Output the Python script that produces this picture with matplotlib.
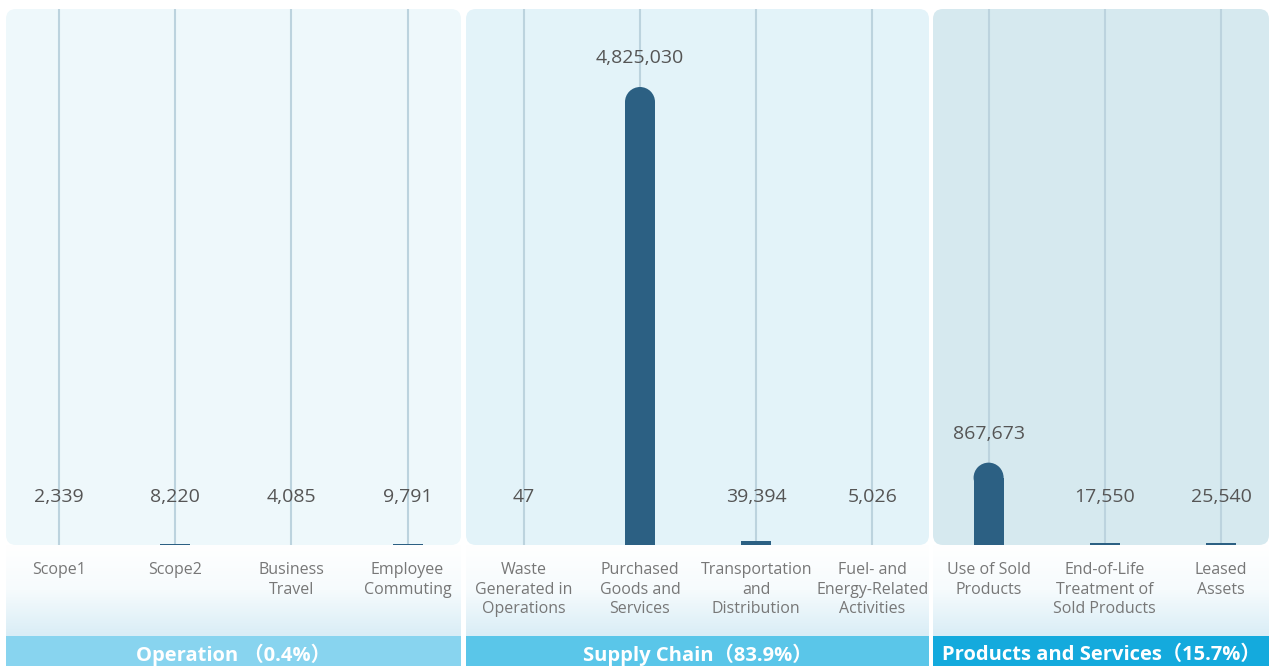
import numpy as np
import matplotlib
matplotlib.use("Agg")
import matplotlib.pyplot as plt
from matplotlib.patches import FancyBboxPatch, Rectangle, Ellipse
from matplotlib.transforms import blended_transform_factory
from matplotlib.colors import LinearSegmentedColormap

plt.rcParams['font.family'] = ['Open Sans', 'Noto Sans CJK SC', 'DejaVu Sans']

# data
categories = ['Scope1', 'Scope2', 'Business\nTravel', 'Employee\nCommuting',
              'Waste\nGenerated in\nOperations', 'Purchased\nGoods and\nServices',
              'Transportation\nand\nDistribution', 'Fuel- and\nEnergy-Related\nActivities',
              'Use of Sold\nProducts', 'End-of-Life\nTreatment of\nSold Products',
              'Leased\nAssets']
values = [2339, 8220, 4085, 9791, 47, 4825030, 39394, 5026, 867673, 17550, 25540]
groups = ['Operation （0.4%）', 'Supply Chain（83.9%）', 'Products and Services（15.7%）']

panel_cols = ['#eef8fb', '#e3f3f9', '#d6e9ef']
band_cols = ['#88d4ef', '#5ac6e9', '#14aadd']
bar_col = '#2c6083'
grid_col = '#bcd3de'

W, H = 1269, 666
fig = plt.figure(figsize=(W / 100, H / 100), dpi=100)

# background layer in pixel units
bg = fig.add_axes([0, 0, 1, 1])
bg.axis('off')

panel_x = [(6, 461), (466, 929), (933, 1269)]
top, base, band_top = 9, 545, 636

grad = np.linspace(0, 1, 100).reshape(-1, 1)
gcmap = LinearSegmentedColormap.from_list('g', ['#ffffff', '#f6fbfd', '#d9edf6'])

for (x0, x1), pc, bc, g in zip(panel_x, panel_cols, band_cols, groups):
    bg.add_patch(FancyBboxPatch((x0, top), x1 - x0, base - top,
                                boxstyle='round,pad=0,rounding_size=10',
                                fc=pc, ec='none', zorder=1))
    bg.imshow(grad, extent=(x0, x1, band_top, base), cmap=gcmap,
              aspect='auto', zorder=0)
    bg.add_patch(Rectangle((x0, band_top), x1 - x0, H - band_top,
                           fc=bc, ec='none', zorder=1))
    bg.text((x0 + x1) / 2, 655, g, ha='center', va='center', color='white',
            fontsize=14.5, fontweight='bold', zorder=2)
bg.set_xlim(0, W)
bg.set_ylim(H, 0)

# data axes
ax = fig.add_axes([0, (H - base) / H, 1, (base - top) / H])
ax.patch.set_alpha(0)
ax.axis('off')
step = 116.2
ax.set_xlim(-59 / step, (W - 59) / step)
ymax = max(values) * (base - top) / 458
ax.set_ylim(0, ymax)

x = np.arange(len(values))
ax.vlines(x, 0, ymax, color=grid_col, lw=1.5, zorder=1)

px_y = ymax / (base - top)
bw = 30 / step
r = 15 * px_y
for i, v in enumerate(values):
    if v > 2 * r:
        ax.add_patch(Rectangle((i - bw / 2, 0), bw, v - r, fc=bar_col, ec='none', zorder=2))
        ax.add_patch(Ellipse((i, v - r), bw, 2 * r, fc=bar_col, ec='none', zorder=2))
    else:
        ax.bar(i, v, width=bw, color=bar_col, zorder=2)
    ly = max(v, 19 * px_y) + 29 * px_y
    ax.text(i, ly, f'{v:,}', ha='center', va='center', fontsize=14,
            color='#555555', zorder=3)

tr = blended_transform_factory(ax.transData, bg.transData)
for i, c in enumerate(categories):
    ax.text(i, 562, c, transform=tr, ha='center', va='top', fontsize=11.5,
            color='#777777', linespacing=1.3)

fig.savefig('out.png', dpi=100)
